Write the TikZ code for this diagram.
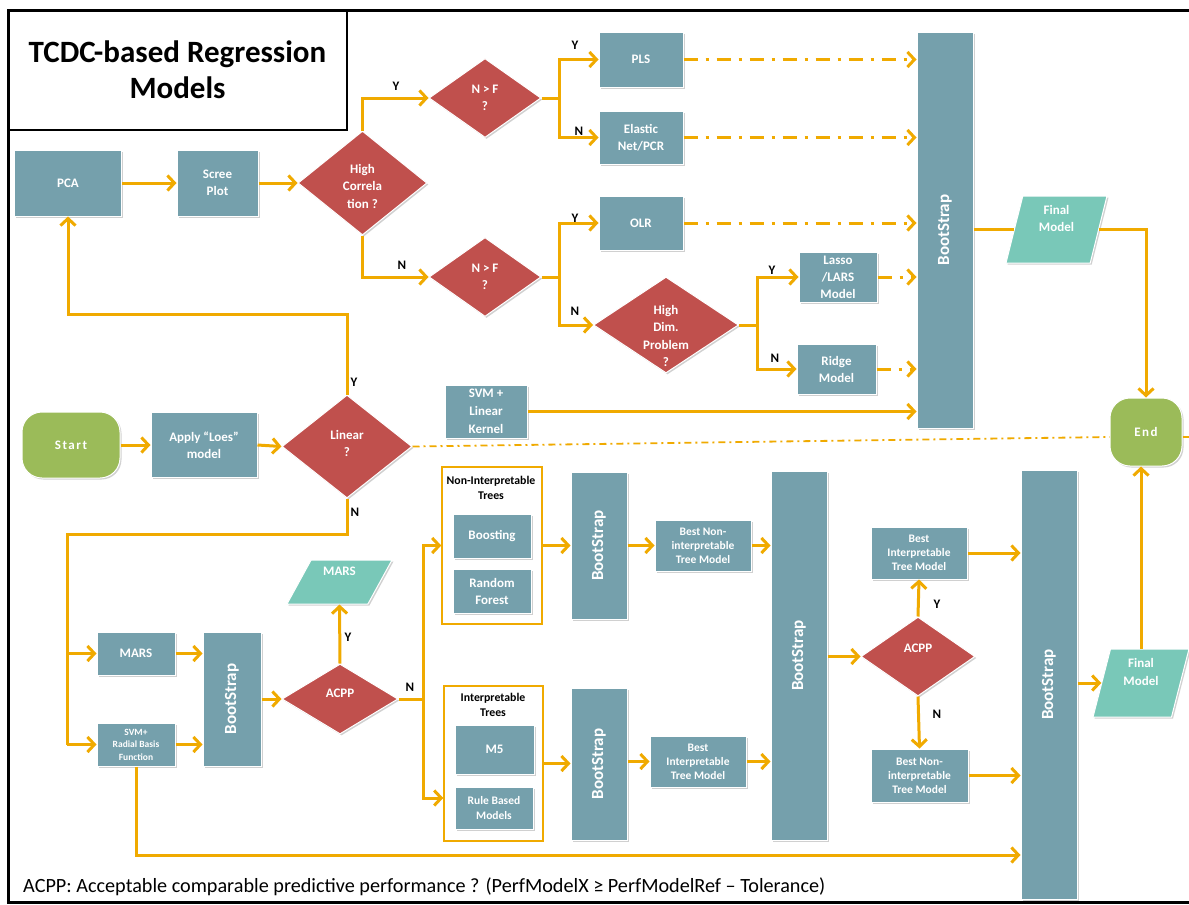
\documentclass[tikz,border=0pt]{standalone}
\usepackage{fontspec}
\setmainfont{Carlito}
\usetikzlibrary{shapes.geometric,arrows.meta,shadows,calc}

\definecolor{tealbox}{RGB}{117,160,172}
\definecolor{redbox}{RGB}{192,80,77}
\definecolor{termgreen}{RGB}{155,187,89}
\definecolor{iobox}{RGB}{121,200,184}
\definecolor{flow}{RGB}{240,170,0}

\begin{document}
\begin{tikzpicture}[x=1pt,y=-1pt,
  sz/.style 2 args={minimum width=#1pt, minimum height=#2pt},
  base/.style={draw=white, line width=1pt,
    drop shadow={shadow xshift=1.5pt, shadow yshift=-1.5pt, opacity=.3, fill=black!60}},
  proc/.style={base, rectangle, fill=tealbox, text=white, align=center, inner sep=0pt,
    font=\bfseries\fontsize{13}{17}\selectfont},
  small/.style={font=\bfseries\fontsize{11.5}{14}\selectfont},
  bar/.style={base, rectangle, fill=tealbox, minimum width=56pt, inner sep=0pt},
  bartext/.style={rotate=90, text=white, inner sep=0pt, font=\bfseries\fontsize{17}{17}\selectfont},
  decision/.style={base, diamond, fill=redbox, inner sep=0pt},
  dtext/.style={text=white, align=center, inner sep=0pt, font=\bfseries\fontsize{13}{17.5}\selectfont},
  io/.style={base, trapezium, trapezium stretches=true, fill=iobox, inner sep=2pt},
  term/.style={base, rectangle, rounded corners=20pt, fill=termgreen, text=white,
    font=\bfseries\fontsize{13}{13}\selectfont\addfontfeatures{LetterSpace=12}},
  group/.style={rectangle, draw=flow, line width=1.5pt, fill=white, inner sep=0pt},
  gtitle/.style={text=black, align=center, inner sep=0pt, font=\bfseries\fontsize{11.8}{15}\selectfont},
  yn/.style={text=black, inner sep=0pt, font=\bfseries\fontsize{13}{13}\selectfont},
  arr/.style={draw=flow, line width=3pt, -{Straight Barb[length=7pt,width=15pt]}},
  link/.style={draw=flow, line width=3pt},
  dd/.style={arr, dash pattern=on 14pt off 8pt on 3pt off 8pt},
  thinlink/.style={draw=flow, line width=1.8pt, dash pattern=on 7pt off 4pt on 2pt off 4pt},
  titlebox/.style={rectangle, draw=black, line width=2pt, fill=white, align=center,
    font=\bfseries\fontsize{31}{36}\selectfont},
]
\useasboundingbox (0,0) rectangle (1189,905);
\fill[white] (0,0) rectangle (1189,905);

% ---------- title ----------
\node[titlebox, sz={339}{120}] (title) at (177.5,70) {TCDC-based Regression\\Models};

% ---------- upper branch ----------
\node[proc, sz={107}{66}] (pca) at (68,183) {PCA};
\node[proc, sz={81}{66}] (scree) at (217.5,183) {Scree\\Plot};
\node[decision, sz={129}{104}, label={[dtext, yshift=-3pt]center:High\\Correla\\tion ?}] (hc) at (362.5,183) {};
\node[decision, sz={112}{79}, label={[dtext]center:N > F\\?}] (nf1) at (485,98) {};
\node[decision, sz={112}{79}, label={[dtext]center:N > F\\?}] (nf2) at (485,277) {};
\node[proc, sz={84}{55}] (pls) at (641,59.5) {PLS};
\node[proc, sz={84}{53}] (enet) at (641,137.5) {Elastic\\Net/PCR};
\node[proc, sz={84}{54}] (olr) at (641,223) {OLR};
\node[decision, sz={145}{96}, label={[dtext, yshift=-11pt]center:High\\Dim.\\Problem\\?}] (hd) at (666,325) {};
\node[proc, sz={78}{50}] (lasso) at (838,277) {Lasso\\/LARS\\Model};
\node[proc, sz={79}{50}] (ridge) at (836.5,369) {Ridge\\Model};
\node[bar, minimum height=396pt, label={[bartext]center:BootStrap}] (bs1) at (945,230) {};
\node[io, trapezium left angle=76, trapezium right angle=104, sz={101}{67},
  label={[dtext, yshift=11pt]center:Final\\Model}] (fm1) at (1056.5,229.5) {};
\node[term, sz={72}{68}] (end) at (1146,432) {End};

% ---------- start row ----------
\node[term, sz={98}{66}] (start) at (71,445) {Start};
\node[proc, sz={106}{65}] (apply) at (204,445) {Apply “Loes”\\model};
\node[decision, sz={130}{103}, label={[dtext, yshift=3pt]center:Linear\\?}] (lin) at (347,446.5) {};
\node[proc, sz={82}{53}, font=\bfseries\fontsize{13}{18}\selectfont] (svml) at (486,411.5) {SVM +\\Linear\\Kernel};

% ---------- lower left ----------
\node[proc, sz={78}{43}] (mars) at (136,653.5) {MARS};
\node[proc, sz={78}{43}, font=\bfseries\fontsize{9.5}{12.5}\selectfont] (svmr) at (136,744.5) {SVM+\\Radial Basis\\Function};
\node[bar, minimum height=134pt, minimum width=58pt, label={[bartext]center:BootStrap}] (bs2) at (232,699) {};
\node[decision, sz={116}{70}, label={[dtext, yshift=6pt]center:ACPP}] (acpp1) at (340,699) {};
\node[io, trapezium left angle=67, trapezium right angle=113, sz={105}{44},
  label={[dtext, yshift=11pt]center:MARS}] (marsout) at (339.5,582) {};

% ---------- tree groups ----------
\node[group, sz={100}{157}] (ni) at (492,545.5) {};
\node[gtitle] (nit) at (491,487.5) {Non-Interpretable\\Trees};
\node[proc, sz={78}{44}] (boost) at (492,536) {Boosting};
\node[proc, sz={78}{44}] (rf) at (492,591) {Random\\Forest};
\node[group, sz={99}{155}] (gi) at (493.5,763.5) {};
\node[gtitle] (git) at (493,705) {Interpretable\\Trees};
\node[proc, sz={79}{49}] (m5) at (494.5,749.5) {M5};
\node[proc, sz={78}{42}, font=\bfseries\fontsize{11.5}{15}\selectfont] (rbm) at (494,808) {Rule Based\\Models};

\node[bar, minimum height=147pt, label={[bartext]center:BootStrap}] (bsni) at (599,545.5) {};
\node[bar, minimum height=152pt, label={[bartext]center:BootStrap}] (bsi) at (599,764) {};
\node[proc, small, sz={96}{51}] (bestni1) at (703,545.5) {Best Non-\\interpretable\\Tree Model};
\node[proc, small, sz={96}{51}] (besti1) at (698,761.5) {Best\\Interpretable\\Tree Model};
\node[bar, minimum height=369pt, label={[bartext]center:BootStrap}] (bs3) at (799,655.5) {};
\node[decision, sz={114}{79}, label={[dtext, yshift=8pt]center:ACPP}] (acpp2) at (918,656.5) {};
\node[proc, small, sz={96}{52}] (besti2) at (919,553) {Best\\Interpretable\\Tree Model};
\node[proc, small, sz={97}{53}] (bestni2) at (919.5,775.5) {Best Non-\\interpretable\\Tree Model};
\node[bar, minimum height=429pt, label={[bartext]center:BootStrap}] (bs4) at (1049,684.5) {};
\node[io, trapezium left angle=74, trapezium right angle=106, sz={96}{68},
  label={[dtext, yshift=11pt]center:Final\\Model}] (fm2) at (1141,683) {};

% ---------- note ----------
\node[anchor=base west, inner sep=0pt, font=\fontsize{20.2}{20.2}\selectfont] (note) at (23,892)
  {ACPP: Acceptable comparable predictive performance ? (PerfModelX ≥ PerfModelRef – Tolerance)};

% ---------- connectors: upper part ----------
\draw[arr] (pca) -- (scree);
\draw[arr] (scree) -- (hc);
\draw[arr] (hc.north) |- (nf1.west);
\draw[arr] (hc.south) |- (nf2.west);
\node[yn] (y1) at (396,86) {Y};
\node[yn] (n1) at (402,265) {N};

\coordinate (b1) at ($(nf1.east)+(18,0)$);
\draw[arr] (nf1.east) -- (b1) |- (pls.west);
\draw[arr] (b1) |- (enet.west);
\node[yn] (y2) at (575,45) {Y};
\node[yn] (n2) at (579,131) {N};

\coordinate (b2) at ($(nf2.east)+(18,0)$);
\draw[arr] (nf2.east) -- (b2) |- (olr.west);
\draw[arr] (b2) |- (hd.west);
\node[yn] (y3) at (575,218) {Y};
\node[yn] (n3) at (575,311) {N};

\coordinate (b3) at ($(hd.east)+(18,0)$);
\draw[arr] (hd.east) -- (b3) |- (lasso.west);
\draw[arr] (b3) |- (ridge.west);
\node[yn] (y4) at (772,270) {Y};
\node[yn] (n4) at (775,358) {N};

\draw[dd] (pls.east) -- (pls.east -| bs1.west);
\draw[dd] (enet.east) -- (enet.east -| bs1.west);
\draw[dd] (olr.east) -- (olr.east -| bs1.west);
\draw[dd] (lasso.east) -- (lasso.east -| bs1.west);
\draw[dd] (ridge.east) -- (ridge.east -| bs1.west);
\draw[arr] (svml.east) -- (svml.east -| bs1.west);
\draw[link] (bs1.east |- fm1.west) -- (fm1.west);
\draw[arr] (fm1.east) -| (end.north);

% ---------- connectors: start row ----------
\draw[arr] (start) -- (apply);
\draw[arr] (apply.east) -- (lin.west);
\draw[arr] (lin.north) -- ++(0,-80) -| (pca.south);
\node[yn] (y5) at (354,382) {Y};
\coordinate (lb) at (67,534);
\draw[link] (lin.south) |- (lb) -- (lb |- svmr.west);
\draw[arr] (lb |- mars.west) -- (mars.west);
\draw[arr] (lb |- svmr.west) -- (svmr.west);
\node[yn] (n5) at (355,512) {N};
\coordinate (rim) at (1189,437);
\draw[thinlink] (lin.east) -- ([yshift=-5pt]end.west);
\draw[thinlink] ([yshift=-5pt]end.east) -- (rim);

% ---------- connectors: lower part ----------
\draw[arr] (mars.east) -- (mars.east -| bs2.west);
\draw[arr] (svmr.east) -- (svmr.east -| bs2.west);
\draw[arr] (bs2.east) -- (acpp1.west);
\draw[arr] (acpp1.north) -- (marsout.south);
\node[yn] (y6) at (348,637) {Y};
\coordinate (b4) at ($(acpp1.east)+(25,0)$);
\draw[arr] (acpp1.east) -- (b4) |- (ni.west);
\draw[arr] (b4) |- ([yshift=-34.5pt]gi.west);
\node[yn] (n6) at (410,687) {N};

\draw[arr] (ni.east) -- (ni.east -| bsni.west);
\draw[arr] (gi.east) -- (gi.east -| bsi.west);
\draw[arr] (bsni.east |- bestni1.west) -- (bestni1.west);
\draw[arr] (bsi.east |- besti1.west) -- (besti1.west);
\draw[arr] (bestni1.east) -- (bestni1.east -| bs3.west);
\draw[arr] (besti1.east) -- (besti1.east -| bs3.west);
\draw[arr] (bs3.east |- acpp2.west) -- (acpp2.west);
\draw[arr] (acpp2.north) -- (besti2.south);
\draw[arr] (acpp2.south) -- (bestni2.north);
\node[yn] (y7) at (937,604) {Y};
\node[yn] (n7) at (937,714) {N};
\draw[arr] (besti2.east) -- (besti2.east -| bs4.west);
\draw[arr] (bestni2.east) -- (bestni2.east -| bs4.west);
\draw[arr] (svmr.south) |- ($(bs4.west)+(0,170.5)$);
\draw[arr] (bs4.east |- fm2.west) -- (fm2.west);
\draw[arr] (fm2.north) -- (fm2.north |- end.south);

% ---------- outer frame ----------
\draw[line width=3pt] (1189,10) -- (8,10) -- (8,902) -- (1189,902);
\end{tikzpicture}
\end{document}
